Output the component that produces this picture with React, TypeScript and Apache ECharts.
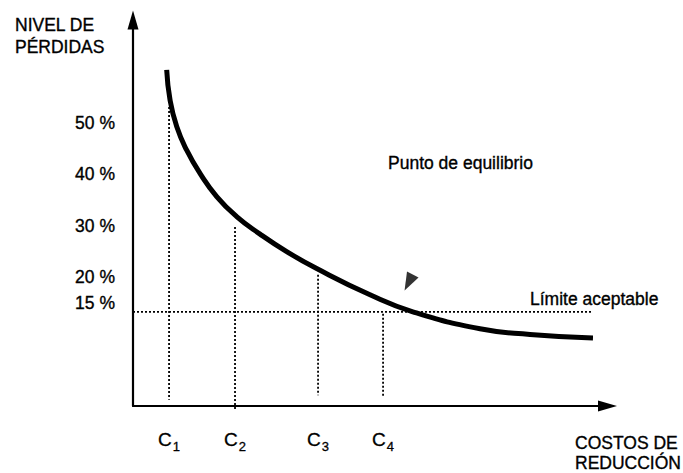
import React, { useEffect, useRef } from "react";
import * as echarts from "echarts";

const FONT = '"Liberation Sans", Arial, Helvetica, sans-serif';

// Loss curve (x: reduction cost in arbitrary units 0..100, y: loss level in %)
const curveX = [7.1, 7.8, 9.21, 11.32, 14.12, 17.64, 21.85, 26.77, 32.39, 38.71, 49.95, 58.97, 73.13, 83.67, 96.94];
const curveY = [60.3, 54.5, 49.3, 44.7, 40.2, 35.7, 31.8, 28.4, 25.0, 21.7, 16.6, 13.3, 10.0, 8.9, 8.2];

// Cost markers C1..C4
const costNames = ["1", "2", "3", "4"];
const costX = [7.6, 21.5, 39.0, 52.7];
const costTop = [53.1, 29.8, 20.5, 12.9];
const costBottom = [-3.8, -5.8, -2.9, -3.2];

// Acceptable limit
const limitY = 13.3;
const limitX = [0, 96.9];

// Equilibrium pointer
const pointer = [58.1, 19.0];

// Y tick labels
const yTicks = [15, 20, 30, 40, 50];

export default function App() {
  const ref = useRef<HTMLDivElement>(null);

  useEffect(() => {
    if (!ref.current) return;
    const chart = echarts.init(ref.current, null, { renderer: "svg" });

    const dotted = { color: "#000", width: 1.8, type: [2, 2] as number[] };

    const costSeries = costX.map((x, i) => ({
      type: "line",
      data: [
        [x, costTop[i]],
        [x, costBottom[i]],
      ],
      symbol: "none",
      silent: true,
      clip: false,
      lineStyle: dotted,
      z: 2,
    }));

    const textStyle = (text: string, x: number, y: number) => ({
      type: "text",
      x,
      y,
      style: {
        text,
        fill: "#000",
        stroke: "#000",
        lineWidth: 0.35,
        fontSize: 17.5,
        fontFamily: FONT,
        align: "left",
        verticalAlign: "middle",
      },
    });

    chart.setOption({
      animation: false,
      backgroundColor: "#fff",
      grid: { left: 133, right: 75.5, top: 20, bottom: 67 },
      xAxis: {
        type: "value",
        min: 0,
        max: 100,
        splitLine: { show: false },
        axisTick: { show: false },
        axisLine: {
          show: true,
          onZero: false,
          symbol: ["none", "triangle"],
          symbolSize: [11, 19],
          lineStyle: { color: "#000", width: 2.2 },
        },
        axisLabel: {
          customValues: costX,
          margin: 20,
          color: "#000",
          formatter: (v: number) => {
            const i = costX.findIndex((c) => Math.abs(c - v) < 1e-6);
            return i >= 0 ? `{c|C}{s|${costNames[i]}}` : "";
          },
          rich: {
            c: { fontSize: 19, fontFamily: FONT, color: "#000", textBorderColor: "#000", textBorderWidth: 0.3 },
            s: { fontSize: 13, fontFamily: FONT, color: "#000", padding: [14, 0, 0, 1], textBorderColor: "#000", textBorderWidth: 0.3 },
          },
        },
      },
      yAxis: {
        type: "value",
        min: -5,
        max: 70,
        splitLine: { show: false },
        axisTick: { show: false },
        axisLine: {
          show: true,
          onZero: false,
          symbol: ["none", "triangle"],
          symbolSize: [11, 19],
          lineStyle: { color: "#000", width: 2.2 },
        },
        axisLabel: {
          customValues: yTicks,
          margin: 18,
          color: "#000",
          fontSize: 17.5,
          fontFamily: FONT,
          textBorderColor: "#000",
          textBorderWidth: 0.35,
          formatter: (v: number) => `${v} %`,
        },
      },
      series: [
        ...costSeries,
        {
          type: "line",
          data: [
            [limitX[0], limitY],
            [limitX[1], limitY],
          ],
          symbol: "none",
          silent: true,
          lineStyle: dotted,
          z: 2,
        },
        {
          type: "line",
          data: curveX.map((x, i) => [x, curveY[i]]),
          smooth: 0.5,
          symbol: "none",
          silent: true,
          lineStyle: { color: "#000", width: 5 },
          z: 5,
        },
        {
          type: "scatter",
          data: [pointer],
          symbol: "triangle",
          symbolSize: [13, 18],
          symbolRotate: 153,
          itemStyle: { color: "#000" },
          silent: true,
          z: 6,
        },
      ],
      graphic: [
        textStyle("NIVEL DE", 15, 24.5),
        textStyle("PÉRDIDAS", 15, 47),
        textStyle("Punto de equilibrio", 388, 162.5),
        textStyle("Límite aceptable", 530, 298.5),
        textStyle("COSTOS DE", 575, 442.5),
        textStyle("REDUCCIÓN", 575, 462.5),
      ],
    });

    return () => chart.dispose();
  }, []);

  return (
    <div
      ref={ref}
      style={{ position: "fixed", left: 0, top: 0, width: 683, height: 473 }}
    />
  );
}
